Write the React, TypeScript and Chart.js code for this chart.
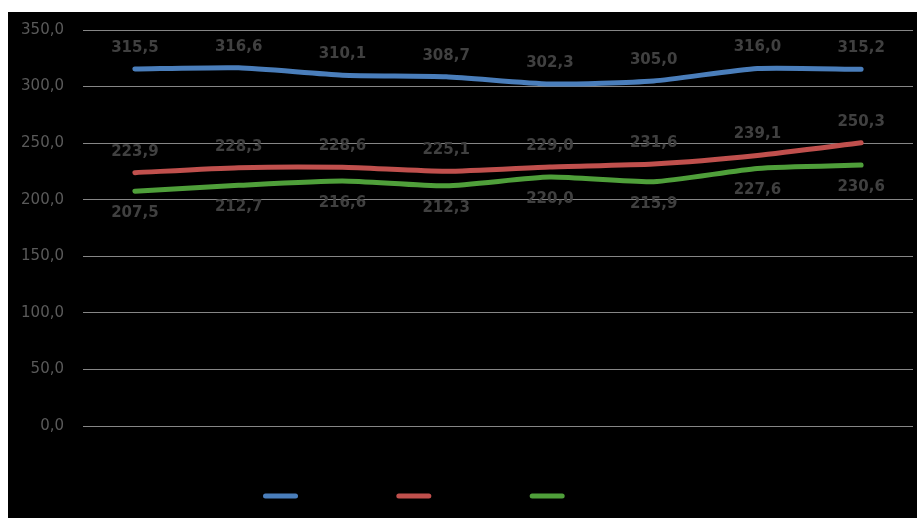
import React, { useEffect, useRef } from "react";
import { Chart, registerables } from "chart.js";

Chart.register(...registerables);

const categories = ["1", "2", "3", "4", "5", "6", "7", "8"];
const seriesNames = ["Série1", "Série2", "Série3"];
const blueValues = [315.5, 316.6, 310.1, 308.7, 302.3, 305.0, 316.0, 315.2];
const redValues = [223.9, 228.3, 228.6, 225.1, 229.0, 231.6, 239.1, 250.3];
const greenValues = [207.5, 212.7, 216.6, 212.3, 220.0, 215.9, 227.6, 230.6];
const yTicks = [0, 50, 100, 150, 200, 250, 300, 350];

const fmt = (v: number) => v.toFixed(1).replace(".", ",");

const labelPlugin = {
  id: "valueLabels",
  afterDatasetsDraw(chart: any) {
    const ctx = chart.ctx;
    ctx.save();
    ctx.font = "bold 15px 'DejaVu Sans'";
    ctx.fillStyle = "#404040";
    ctx.textAlign = "center";
    ctx.textBaseline = "middle";
    chart.data.datasets.forEach((ds: any, i: number) => {
      const meta = chart.getDatasetMeta(i);
      const offset = ds.labelBelow ? 22 : -21;
      meta.data.forEach((pt: any, j: number) => {
        ctx.fillText(fmt(ds.data[j]), pt.x, pt.y + offset);
      });
    });
    ctx.restore();
  },
};

export default function App() {
  const ref = useRef<HTMLCanvasElement | null>(null);
  useEffect(() => {
    if (!ref.current) return;
    const mk = (label: string, data: number[], color: string, below: boolean) => ({
      label,
      data,
      borderColor: color,
      backgroundColor: color,
      borderWidth: 5,
      borderCapStyle: "round",
      borderJoinStyle: "round",
      pointRadius: 0,
      tension: 0.2,
      labelBelow: below,
    });
    const chart = new Chart(ref.current, {
      type: "line",
      data: {
        labels: categories,
        datasets: [
          mk(seriesNames[0], blueValues, "#4a7ebb", false),
          mk(seriesNames[1], redValues, "#c0504d", false),
          mk(seriesNames[2], greenValues, "#4f9f3a", true),
        ] as any,
      },
      options: {
        animation: false,
        responsive: true,
        maintainAspectRatio: false,
        layout: { padding: { left: 10, right: 4, top: 18, bottom: -2 } },
        scales: {
          x: {
            offset: true,
            grid: { display: false, drawTicks: false },
            border: { display: false },
            ticks: { display: false },
            afterFit: (axis: any) => {
              axis.height = 56;
            },
          },
          y: {
            min: 0,
            max: 350,
            afterBuildTicks: (axis: any) => {
              axis.ticks = yTicks.map((v) => ({ value: v }));
            },
            afterFit: (axis: any) => {
              axis.width = 65;
              axis.paddingTop = 0;
              axis.paddingBottom = 0;
            },
            grid: { color: "#868686", lineWidth: 1, drawTicks: false },
            border: { display: false },
            ticks: {
              padding: 19,
              color: "#5a5a5a",
              font: { family: "'DejaVu Sans'", size: 15 },
              callback: (v: any) => fmt(Number(v)),
            },
          },
        },
        plugins: {
          legend: {
            position: "bottom",
            labels: {
              usePointStyle: true,
              pointStyle: "line",
              pointStyleWidth: 30,
              padding: 0,
              color: "#000000",
              font: { family: "'DejaVu Sans'", size: 28 },
              generateLabels: (c: any) =>
                Chart.defaults.plugins.legend.labels
                  .generateLabels(c)
                  .map((it: any) => ({ ...it, lineCap: "round", lineWidth: 5 })),
            },
          },
          tooltip: { enabled: false },
        },
      } as any,
      plugins: [labelPlugin],
    });
    return () => chart.destroy();
  }, []);
  return (
    <div
      style={{
        position: "fixed",
        left: 8,
        top: 12,
        width: 909,
        height: 506,
        background: "#000000",
      }}
    >
      <canvas ref={ref} />
    </div>
  );
}
